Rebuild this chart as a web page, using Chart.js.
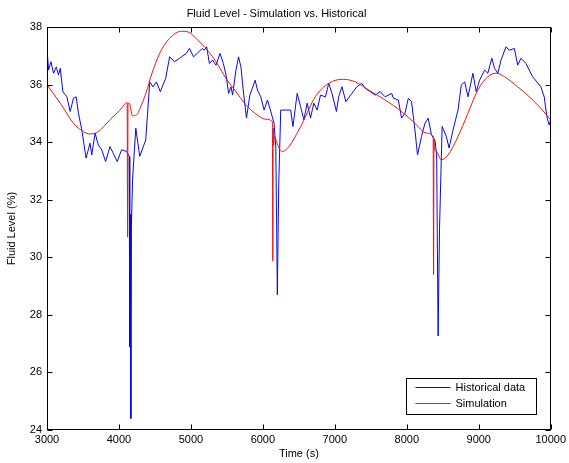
<!DOCTYPE html>
<html>
<head>
<meta charset="utf-8">
<title>Fluid Level - Simulation vs. Historical</title>
<script src="https://cdn.jsdelivr.net/npm/chart.js@4.4.0/dist/chart.umd.min.js"></script>
<style>
  html, body { margin: 0; padding: 0; background: #fff; }
</style>
</head>
<body>
<canvas id="myChart" width="569" height="463"></canvas>
<script>
// values
const histTime = [
  3000, 3022, 3055, 3091, 3129, 3160, 3184, 3221, 3276, 3322,
  3368, 3405, 3437, 3484, 3543, 3598, 3622, 3668, 3713, 3760,
  3815, 3875, 3920, 3976, 4037, 4106, 4142, 4150, 4158, 4165,
  4172, 4189, 4234, 4289, 4372, 4428, 4473, 4520, 4575, 4649,
  4704, 4773, 4842, 4935, 4980, 5036, 5109, 5156, 5188, 5219,
  5257, 5302, 5349, 5405, 5450, 5488, 5524, 5557, 5579, 5626,
  5662, 5695, 5727, 5772, 5819, 5855, 5893, 5924, 5971, 6017,
  6063, 6110, 6155, 6180, 6201, 6220, 6248, 6386, 6418, 6477,
  6524, 6570, 6615, 6662, 6708, 6754, 6801, 6870, 6915, 6961,
  7022, 7053, 7099, 7154, 7237, 7306, 7375, 7422, 7492, 7561,
  7630, 7699, 7790, 7814, 7883, 7928, 7975, 8021, 8066, 8113,
  8149, 8205, 8252, 8297, 8343, 8390, 8415, 8435, 8455, 8491,
  8550, 8587, 8643, 8712, 8757, 8804, 8850, 8919, 8965, 9012,
  9081, 9126, 9182, 9219, 9265, 9310, 9379, 9426, 9495, 9541,
  9587, 9656, 9748, 9863, 9910, 9946, 9979, 10000
];
const histLevel = [
  37.26, 36.51, 36.80, 36.40, 36.62, 36.34, 36.57, 35.76, 35.58, 35.07,
  35.53, 35.58, 35.01, 34.43, 33.45, 33.97, 33.56, 34.32, 33.91, 33.74,
  33.33, 33.85, 33.62, 33.33, 33.74, 33.68, 33.51, 26.9, 31.5, 24.4,
  31.0, 32.70, 34.49, 33.51, 34.08, 36.10, 35.93, 36.10, 35.76, 36.22,
  36.97, 36.80, 36.92, 37.09, 37.26, 36.97, 37.14, 37.26, 37.20, 37.32,
  36.74, 36.86, 36.68, 37.09, 36.74, 36.34, 35.70, 35.93, 35.64, 36.51,
  36.97, 36.62, 35.82, 34.84, 35.64, 35.88, 36.16, 35.82, 35.58, 35.12,
  35.47, 35.07, 34.66, 33.8, 28.7, 32.5, 35.12, 35.12, 34.55, 35.70,
  35.24, 34.78, 35.36, 34.84, 35.36, 35.12, 35.64, 35.58, 36.05, 35.70,
  35.07, 35.58, 35.93, 35.41, 35.70, 35.93, 36.05, 35.88, 35.76, 35.64,
  35.76, 35.58, 35.70, 35.53, 35.47, 34.84, 35.01, 35.53, 35.41, 34.43,
  33.56, 34.20, 34.66, 34.84, 34.26, 34.08, 33.6, 27.27, 31.0, 34.55,
  34.20, 33.80, 34.43, 35.12, 35.99, 36.10, 35.58, 36.40, 35.76, 36.16,
  36.51, 36.40, 36.92, 36.57, 36.40, 36.86, 37.32, 37.20, 37.26, 36.68,
  36.92, 36.74, 36.28, 35.93, 35.58, 34.89, 34.60, 34.78
];

const simTime = [
  3000, 3184, 3368, 3506, 3598, 3713, 3875, 4013, 4114, 4120,
  4126, 4142, 4189, 4244, 4313, 4382, 4451, 4566, 4704, 4866,
  4957, 5095, 5211, 5349, 5488, 5626, 5764, 5902, 6040, 6132,
  6138, 6144, 6150, 6155, 6224, 6270, 6362, 6501, 6546, 6731,
  6915, 7122, 7284, 7468, 7699, 7928, 8113, 8274, 8366, 8372,
  8378, 8384, 8412, 8481, 8574, 8712, 8850, 8988, 9126, 9241,
  9357, 9541, 9725, 9863, 10000
];
const simLevel = [
  36.0, 35.36, 34.66, 34.37, 34.29, 34.37, 34.78, 35.12, 35.38, 30.7,
  35.35, 35.36, 34.92, 34.95, 35.30, 35.76, 36.34, 37.09, 37.61, 37.86,
  37.84, 37.55, 37.26, 36.80, 36.22, 35.76, 35.30, 34.99, 34.80, 34.72,
  29.87, 34.5, 33.9, 34.2, 33.80, 33.68, 33.85, 34.43, 34.65, 35.59,
  36.05, 36.19, 36.10, 35.82, 35.47, 35.07, 34.66, 34.32, 34.20, 29.4,
  34.1, 33.8, 33.68, 33.39, 33.56, 34.20, 35.01, 35.82, 36.28, 36.40,
  36.28, 35.93, 35.53, 35.18, 34.78
];

const xTicks = [3000, 4000, 5000, 6000, 7000, 8000, 9000, 10000];
const yTicks = [24, 26, 28, 30, 32, 34, 36, 38];

const FONT = "'Liberation Sans', Arial, sans-serif";
const HIST_COLOR = 'rgb(10, 10, 215)';
const SIM_COLOR = 'rgb(225, 25, 25)';

function toPoints(xs, ys) {
  return xs.map(function (x, i) { return { x: x, y: ys[i] }; });
}

// matlab style box, inward ticks and legend
const matlabBox = {
  id: 'matlabBox',
  afterDraw(chart) {
    const ctx = chart.ctx;
    const a = chart.chartArea;
    const xs = chart.scales.x, ys = chart.scales.y;
    const L = Math.round(a.left) + 0.5, R = Math.round(a.right) - 0.5;
    const T = Math.round(a.top) + 0.5, B = Math.round(a.bottom) - 0.5;
    const tl = 5;
    ctx.save();
    ctx.strokeStyle = '#000';
    ctx.lineWidth = 1;
    ctx.strokeRect(L, T, R - L, B - T);
    ctx.beginPath();
    xTicks.forEach(function (v) {
      const px = Math.round(xs.getPixelForValue(v)) + 0.5;
      ctx.moveTo(px, B); ctx.lineTo(px, B - tl);
      ctx.moveTo(px, T); ctx.lineTo(px, T + tl);
    });
    yTicks.forEach(function (v) {
      const py = Math.round(ys.getPixelForValue(v)) + 0.5;
      ctx.moveTo(L, py); ctx.lineTo(L + tl, py);
      ctx.moveTo(R, py); ctx.lineTo(R - tl, py);
    });
    ctx.stroke();

    // legend box
    const lx = 406.5, ly = 378.5, lw = 130, lh = 36;
    ctx.fillStyle = '#fff';
    ctx.fillRect(lx, ly, lw, lh);
    ctx.strokeStyle = '#000';
    ctx.strokeRect(lx, ly, lw, lh);
    ctx.font = '11px ' + FONT;
    ctx.textBaseline = 'middle';
    ctx.textAlign = 'left';
    const entries = [['Historical data', HIST_COLOR], ['Simulation', SIM_COLOR]];
    entries.forEach(function (e, i) {
      const yy = ly + 9 + i * 16;
      ctx.beginPath();
      ctx.strokeStyle = e[1];
      ctx.moveTo(lx + 9, yy);
      ctx.lineTo(lx + 44, yy);
      ctx.stroke();
      ctx.fillStyle = '#000';
      ctx.fillText(e[0], lx + 49, yy);
    });
    ctx.restore();
  }
};

const ctx = document.getElementById('myChart');
const myChart = new Chart(ctx, {
  type: 'line',
  data: {
    datasets: [{
      label: 'Historical data',
      data: toPoints(histTime, histLevel),
      borderColor: HIST_COLOR,
      borderWidth: 1,
      pointRadius: 0,
      tension: 0,
      order: 1
    },
    {
      label: 'Simulation',
      data: toPoints(simTime, simLevel),
      borderColor: SIM_COLOR,
      borderWidth: 1,
      pointRadius: 0,
      cubicInterpolationMode: 'monotone',
      order: 0
    }]
  },
  options: {
    responsive: false,
    animation: false,
    devicePixelRatio: 1,
    layout: { padding: { left: 0, right: 16, top: 0, bottom: 0 } },
    plugins: {
      legend: { display: false },
      tooltip: { enabled: false },
      title: {
        display: true,
        text: 'Fluid Level - Simulation vs. Historical',
        color: '#000',
        font: { family: FONT, size: 11, weight: 'normal' },
        padding: { top: 7, bottom: 7 }
      }
    },
    scales: {
      x: {
        type: 'linear',
        min: 3000,
        max: 10000,
        afterBuildTicks: function (s) { s.ticks = xTicks.map(function (v) { return { value: v }; }); },
        afterFit: function (s) { s.height = 33; },
        grid: { display: false, drawTicks: false },
        border: { display: false },
        ticks: {
          color: '#000',
          padding: 3,
          maxRotation: 0,
          font: { family: FONT, size: 11 },
          callback: function (v) { return String(v); }
        },
        title: {
          display: true,
          text: 'Time (s)',
          color: '#000',
          font: { family: FONT, size: 11 },
          padding: { top: 0, bottom: 2 }
        }
      },
      y: {
        min: 24,
        max: 38,
        afterBuildTicks: function (s) { s.ticks = yTicks.map(function (v) { return { value: v }; }); },
        afterFit: function (s) { s.width = 47; },
        grid: { display: false, drawTicks: false },
        border: { display: false },
        ticks: {
          color: '#000',
          padding: 5,
          font: { family: FONT, size: 11 },
          callback: function (v) { return String(v); }
        },
        title: {
          display: true,
          text: 'Fluid Level (%)',
          color: '#000',
          font: { family: FONT, size: 11 },
          padding: { top: 5, bottom: 0 }
        }
      }
    }
  },
  plugins: [matlabBox]
});
</script>
</body>
</html>
